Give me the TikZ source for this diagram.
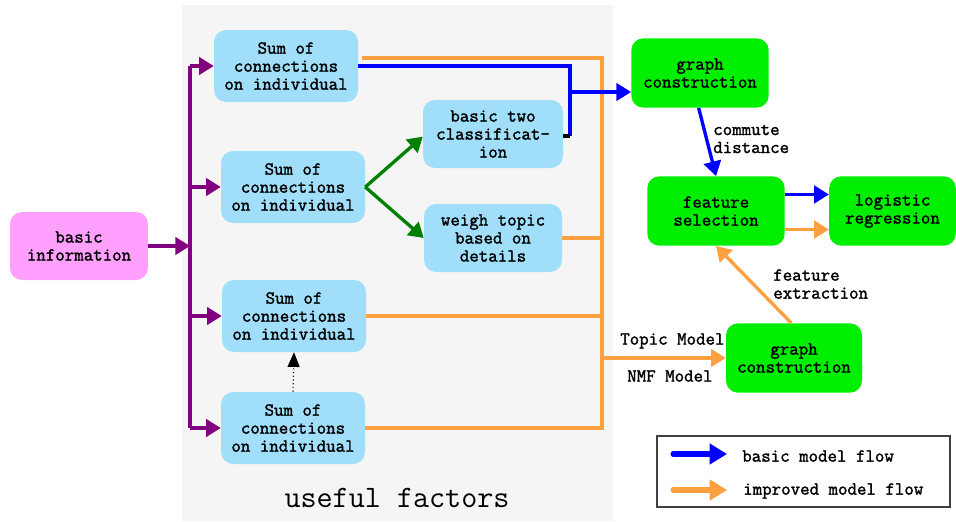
\documentclass[tikz,border=0pt]{standalone}
\usepackage{fontspec}
\setmonofont{Latin Modern Mono}[AutoFakeBold=1.6]
\usetikzlibrary{arrows.meta}
\definecolor{panelgray}{RGB}{245,245,245}
\definecolor{nodeblue}{RGB}{160,222,250}
\definecolor{nodepink}{RGB}{255,160,255}
\definecolor{nodegreen}{RGB}{0,238,0}
\definecolor{lineorange}{RGB}{255,160,64}
\definecolor{linepurple}{RGB}{128,0,128}
\definecolor{linegreen}{RGB}{0,128,0}
\newcommand\nodefont{\fontsize{13.8}{13.5}\selectfont\ttfamily\bfseries}
\tikzset{
  box/.style={rounded corners=9pt, inner sep=2pt, align=center, font=\nodefont},
  bluebox/.style={box, fill=nodeblue, minimum width=108pt, minimum height=54pt},
  greenbox/.style={box, fill=nodegreen, minimum width=103pt, minimum height=52pt},
  lbl/.style={font=\nodefont, align=left, inner sep=0pt},
  conn/.style={line width=2.5pt},
  tip/.style={-{Triangle[length=11pt,width=13pt]}},
  purp/.style={conn, linepurple},
  grn/.style={conn, linegreen},
  blu/.style={conn, blue},
  org/.style={conn, lineorange},
}
\begin{document}
\begin{tikzpicture}[x=0.75pt, y=-0.75pt]
\useasboundingbox (0,0) rectangle (956,521);
\fill[panelgray] (182,5) rectangle (613,521);

% nodes
\node[box, fill=nodepink, minimum width=103.5pt, minimum height=51pt] (info) at (79,246) {basic\\information};
\node[bluebox] (s1) at (286,66) {Sum of\\connections\\on individual};
\node[bluebox] (s2) at (293,187) {Sum of\\connections\\on individual};
\node[bluebox] (s3) at (294,316) {Sum of\\connections\\on individual};
\node[bluebox] (s4) at (293,428) {Sum of\\connections\\on individual};
\node[bluebox, minimum width=105pt, minimum height=51pt] (b2) at (493,134) {basic two\\classificat-\\ion};
\node[bluebox, minimum width=103.5pt, minimum height=51pt] (w) at (493,238) {weigh topic\\based on\\details};
\node[greenbox] (g1) at (700,73) {graph\\construction};
\node[greenbox] (fs) at (716,211) {feature\\selection};
\node[greenbox, minimum width=95pt] (lr) at (892.5,211) {logistic\\regression};
\node[greenbox, minimum width=102pt] (g2) at (794,358) {graph\\construction};

% coordinates
\coordinate (tt) at (190,66);
\coordinate (tb) at (190,428);
\coordinate (bj) at (570,136);
\coordinate (bm) at (570,92);
\coordinate (ot) at (602,58);
\coordinate (ob) at (602,428);
\coordinate (om) at (602,358);

% purple
\draw[purp] (tt) -- (tb);
\draw[purp, tip] (info.east) -- (info.east -| tt);
\draw[purp, tip] (tt) -- (s1.west);
\draw[purp, tip] (s2.west -| tt) -- (s2.west);
\draw[purp, tip] (s3.west -| tt) -- (s3.west);
\draw[purp, tip] (tb) -- (s4.west);

% green
\draw[grn, tip] (s2.east) -- ([yshift=-2pt]b2.west);
\draw[grn, tip] (s2.east) -- (w.west);

% orange
\draw[org] ([xshift=3pt,yshift=6pt]s1.east) -- (ot) -- (ob) -- (s4.east);
\draw[org] (w.east) -- (w.east -| ot);
\draw[org] (s3.east) -- (s3.east -| ot);
\draw[org, tip] (om) -- (g2.west);

% blue
\draw[blu] (s1.east) -| (bj);
\draw[line width=2.5pt, black] ([yshift=-1.5pt]b2.east) -- (bj);
\draw[blu, tip] (bm) -- (bm -| g1.west);
\draw[blu, tip] ([xshift=-1pt]g1.south) -- (fs.north);
\draw[blu, tip] ([yshift=12.4pt]fs.east) -- ([yshift=12.4pt]lr.west);
\draw[org, tip] ([yshift=-13.9pt]fs.east) -- ([yshift=-13.9pt]lr.west);
\draw[org, tip] ([xshift=-2pt]g2.north) -- (fs.south);

% dotted
\draw[dotted, line width=0.8pt, -{Triangle[length=11pt,width=9pt]}] (s4.north) -- (s3.south);

% labels
\node[lbl, anchor=west] (lcd) at (713,139) {commute\\distance};
\node[lbl, anchor=west] (lfe) at (773,284) {feature\\extraction};
\node[lbl, anchor=west] (ltm) at (620,341) {Topic Model};
\node[lbl, anchor=west] (lnmf) at (627,376) {NMF Model};
\node[font=\fontsize{23.4}{24}\selectfont\ttfamily, inner sep=0pt] (uf) at (397,498) {useful factors};

% legend
\draw[black!75, line width=0.8pt] (657,436) rectangle (950,507);
\coordinate (lb1) at (673,454);
\coordinate (lb2) at (727,454);
\coordinate (lo1) at (673,490);
\coordinate (lo2) at (727,490);
\draw[blue, line width=3.8pt, line cap=round, -{Triangle[length=13pt,width=15pt]}] (lb1) -- (lb2);
\draw[lineorange, line width=3.8pt, line cap=round, -{Triangle[length=13pt,width=15pt]}] (lo1) -- (lo2);
\node[lbl, anchor=west] (tbas) at (742,456) {basic model flow};
\node[lbl, anchor=west] (timp) at (743,491) {improved model flow};
\end{tikzpicture}
\end{document}
